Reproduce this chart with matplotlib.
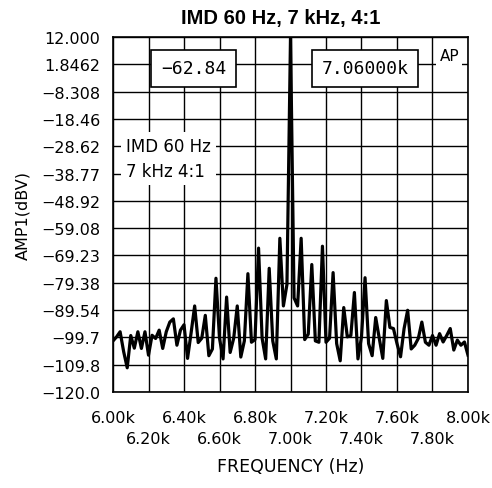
import numpy as np
import matplotlib
matplotlib.use("Agg")
import matplotlib.pyplot as plt

# spectrum, 20 Hz steps from 6.00k to 8.00k
freq = np.arange(6000, 8001, 20)
amp = [-101, -99.5, -97.6, -105, -111, -99, -103.7, -97.6, -103.8, -97.6,
       -106.3, -98.9, -100.1, -97, -103.8, -97.6, -94, -92.8, -102.6, -97,
       -95, -107.5, -98, -88, -101.6, -100, -91.5, -106.5, -104, -77.7,
       -100, -107.7, -84.7, -105.3, -100, -88, -107, -101, -76, -101.5,
       -100.5, -66.5, -100, -107.7, -74, -101, -107.7, -62.84, -88, -80,
       12, -85, -88, -62.84, -100.5, -98.5, -72.6, -101, -101.5, -65.8,
       -101.5, -100, -75.6, -102, -108.4, -88.6, -99.5, -99, -83, -107.7,
       -99.5, -77.5, -102, -106.5, -92.3, -100, -107.5, -86, -96, -96.4,
       -102, -106.9, -96.4, -89.6, -104, -102.6, -100.1, -94, -101.5, -102.6,
       -99, -102.6, -98.3, -101.4, -99, -96.4, -104.4, -100.7, -102.6, -101.4,
       -106.3]

# upper row and lower row of the staggered frequency labels
xtick_top = [6000, 6400, 6800, 7200, 7600, 8000]
xlab_top = ["6.00k", "6.40k", "6.80k", "7.20k", "7.60k", "8.00k"]
xtick_low = [6200, 6600, 7000, 7400, 7800]
xlab_low = ["6.20k", "6.60k", "7.00k", "7.40k", "7.80k"]
ytick_labels = ["12.000", "1.8462", "\u22128.308", "\u221218.46", "\u221228.62",
                "\u221238.77", "\u221248.92", "\u221259.08", "\u221269.23",
                "\u221279.38", "\u221289.54", "\u221299.7", "\u2212109.8",
                "\u2212120.0"]
readout_amp = "\u221262.84"
readout_freq = "7.06000k"

plt.rcParams["font.family"] = "DejaVu Sans"

fig = plt.figure(figsize=(4.92, 4.89), dpi=100)
ax = fig.add_axes([0.2297, 0.1963, 0.7215, 0.726])

ax.plot(freq, amp, color="black", lw=2.3, zorder=3)

ax.set_xlim(6000, 8000)
ax.set_ylim(-120, 12)
ax.set_yticks(np.linspace(12, -120, 14))
ax.set_yticklabels(ytick_labels, fontsize=11.5)
ax.set_xticks(xtick_top)
ax.set_xticklabels(xlab_top, fontsize=11.5)
ax.set_xticks(xtick_low, minor=True)
ax.set_xticklabels(xlab_low, minor=True, fontsize=11.5)
ax.tick_params(axis="both", which="both", length=0)
ax.tick_params(axis="y", pad=9)
ax.tick_params(axis="x", which="major", pad=13)
ax.tick_params(axis="x", which="minor", pad=28)
ax.grid(True, which="both", color="black", lw=1.0)
for s in ax.spines.values():
    s.set_linewidth(1.2)

ax.set_xlabel("FREQUENCY (Hz)", fontsize=12.5, labelpad=8)
ax.set_ylabel("AMP1(dBV)", fontsize=11.5, labelpad=8)
fig.text(0.57, 0.963, "IMD 60 Hz, 7 kHz, 4:1", ha="center", va="center",
         fontsize=14.5, fontweight="bold", family="Liberation Sans")

box = dict(boxstyle="square,pad=0.55", fc="white", ec="black", lw=1.2)
ax.text(6455, 0.3, readout_amp, ha="center", va="center", fontsize=13,
        family="DejaVu Sans Mono", bbox=box, zorder=5)
ax.text(7420, 0.3, readout_freq, ha="center", va="center", fontsize=13,
        family="DejaVu Sans Mono", bbox=box, zorder=5)
ax.text(7895, 5.0, "AP", ha="center", va="center", fontsize=11,
        bbox=dict(boxstyle="square,pad=0.2", fc="white", ec="none"), zorder=5)
ax.text(6075, -33, "IMD 60 Hz\n7 kHz 4:1", ha="left", va="center",
        fontsize=12, linespacing=1.5,
        bbox=dict(boxstyle="square,pad=0.3", fc="white", ec="none"), zorder=5)

fig.savefig("out.png", dpi=100)
